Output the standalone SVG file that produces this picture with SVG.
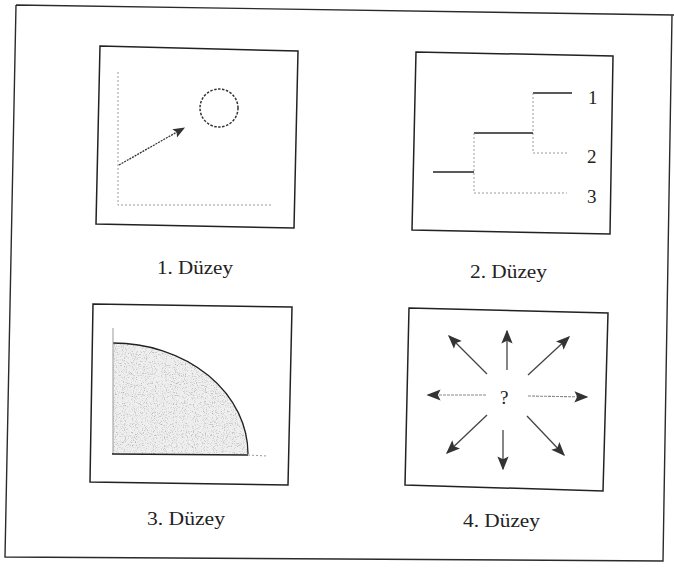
<svg xmlns="http://www.w3.org/2000/svg" width="674" height="568" viewBox="0 0 674 568">
<style>
.frame{fill:none;stroke:#2a2a2a;stroke-width:1.4}
.box{fill:#fff;stroke:#222;stroke-width:1.5}
.lbl{font-family:"Liberation Serif","DejaVu Serif",serif;font-size:18px;fill:#222}
.num{font-family:"Liberation Serif","DejaVu Serif",serif;font-size:19px;fill:#222}
.dot{fill:none;stroke:#9a9a9a;stroke-width:1;stroke-dasharray:2 2}
.solid{fill:none;stroke:#222;stroke-width:1.3}
.arr{fill:none;stroke:#444;stroke-width:1.3;marker-end:url(#ah)}
.arrl{fill:none;stroke:#888;stroke-width:1.1;stroke-dasharray:3 1;marker-end:url(#ah)}
</style>
<defs>
<marker id="ah" viewBox="0 0 10 10" refX="9" refY="5" markerWidth="14" markerHeight="14" markerUnits="userSpaceOnUse" orient="auto">
<path d="M0,1 L10,5 L0,9 L2,5 Z" fill="#333"/>
</marker>
<marker id="ah1" viewBox="0 0 10 10" refX="9" refY="5" markerWidth="12" markerHeight="12" markerUnits="userSpaceOnUse" orient="auto">
<path d="M0,1 L10,5 L0,9 L2,5 Z" fill="#333"/>
</marker>
<filter id="stip" x="0" y="0" width="1" height="1">
<feTurbulence type="fractalNoise" baseFrequency="0.9" numOctaves="2" seed="4" result="n"/>
<feColorMatrix in="n" type="matrix" values="0 0 0 0 0.45  0 0 0 0 0.45  0 0 0 0 0.45  -3 0 0 0 1.45" result="d"/>
<feComposite in="d" in2="SourceGraphic" operator="in"/>
</filter>
</defs>
<rect width="674" height="568" fill="#fff"/>
<g id="frame">
<path class="frame" d="M16,5 L674,15 M16,5 L5,557 L663,561 L672,15"/>
</g>
<g id="level1">
<polygon class="box" points="100,46 298,51 294,228 96,224"/>
<path class="dot" d="M118,72 L118,205 L273,205"/>
<circle cx="219" cy="108" r="19" fill="none" stroke="#333" stroke-width="1.5" stroke-dasharray="2.5 1.5"/>
<line x1="119" y1="165" x2="184" y2="128" stroke="#333" stroke-width="1.3" stroke-dasharray="2 1" marker-end="url(#ah1)"/>
<text class="lbl" x="157" y="274" textLength="76" lengthAdjust="spacingAndGlyphs">1. Düzey</text>
</g>
<g id="level2">
<polygon class="box" points="416,52 613,56 610,234 412,230"/>
<path class="solid" d="M533,93 L572,93"/>
<path class="dot" d="M533,93 L533,153 L567,153"/>
<path class="solid" d="M474,133 L533,133"/>
<path class="dot" d="M474,133 L474,193 L567,193"/>
<path class="solid" d="M433,172 L474,172"/>
<text class="num" x="588" y="104">1</text>
<text class="num" x="587" y="163">2</text>
<text class="num" x="587" y="203">3</text>
<text class="lbl" x="470" y="278" textLength="77" lengthAdjust="spacingAndGlyphs">2. Düzey</text>
</g>
<g id="level3">
<polygon class="box" points="93,304 292,307 288,485 90,482"/>
<path d="M113,343 A135,111 0 0 1 248,454 L113,454 Z" fill="#efefef"/>
<path d="M113,343 A135,111 0 0 1 248,454 L113,454 Z" fill="#000" filter="url(#stip)"/>
<path class="solid" d="M113,343 A135,111 0 0 1 248,454" stroke-width="1.8"/>
<path fill="none" stroke="#999" stroke-width="1" d="M113,328 L113,454"/>
<path class="solid" d="M112,454 L248,455"/>
<path class="dot" d="M248,455 L267,456"/>
<text class="lbl" x="147" y="525" textLength="78" lengthAdjust="spacingAndGlyphs">3. Düzey</text>
</g>
<g id="level4">
<polygon class="box" points="409,308 608,313 603,491 405,485"/>
<text class="num" x="500" y="404">?</text>
<line class="arr" x1="507" y1="370" x2="507" y2="331"/>
<line class="arr" x1="503" y1="430" x2="503" y2="469"/>
<line class="arrl" x1="486" y1="395" x2="428" y2="395"/>
<line class="arrl" x1="528" y1="396" x2="587" y2="397"/>
<line class="arr" x1="487" y1="374" x2="449" y2="336"/>
<line class="arr" x1="528" y1="375" x2="569" y2="337"/>
<line class="arr" x1="487" y1="415" x2="447" y2="453"/>
<line class="arr" x1="527" y1="416" x2="564" y2="455"/>
<text class="lbl" x="463" y="527" textLength="77" lengthAdjust="spacingAndGlyphs">4. Düzey</text>
</g>
</svg>
